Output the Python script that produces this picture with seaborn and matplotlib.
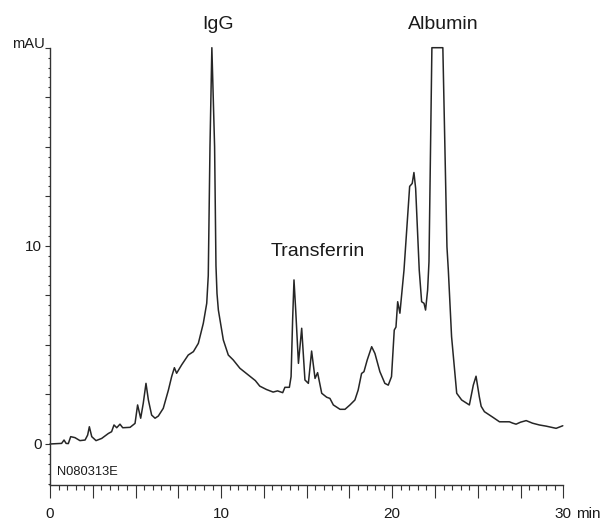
import numpy as np
import pandas as pd
import matplotlib
matplotlib.use("Agg")
import matplotlib.pyplot as plt
import matplotlib.ticker as mticker
import matplotlib.transforms as mtransforms
import seaborn as sns

# ---- data ----
time_min = [0.0, 0.68, 0.82, 0.94, 1.07, 1.21, 1.46, 1.75, 2.05, 2.2, 2.3, 2.44, 2.69,
            3.02, 3.41, 3.6, 3.74, 3.9, 4.09, 4.25, 4.68, 4.97, 5.12, 5.3, 5.45, 5.61, 5.75,
            5.94, 6.14, 6.33, 6.62, 6.92, 7.11, 7.27, 7.4, 7.7, 8.08, 8.38, 8.67, 8.96, 9.16,
            9.25, 9.35, 9.46, 9.62, 9.70, 9.76, 9.84, 10.13, 10.42, 10.71, 11.1, 11.65, 12.0,
            12.26, 12.65, 13.04, 13.3, 13.44, 13.6, 13.73, 13.99, 14.09, 14.18, 14.26, 14.36,
            14.52, 14.71, 14.9, 15.1, 15.29, 15.49, 15.64, 15.88, 16.17, 16.36, 16.56, 16.95,
            17.24, 17.53, 17.82, 18.01, 18.21, 18.35, 18.54, 18.8, 18.99, 19.28, 19.57, 19.77,
            19.96, 20.12, 20.22, 20.32, 20.45, 20.69, 21.02, 21.17, 21.27, 21.37, 21.58, 21.72,
            21.86, 21.95, 22.07, 22.15, 22.22, 22.32, 22.96, 23.2, 23.28, 23.47, 23.77, 24.06,
            24.51, 24.74, 24.9, 25.09, 25.2, 25.39, 25.88, 26.27, 26.46, 26.85, 27.05, 27.24,
            27.5, 27.83, 28.2, 28.6, 29.0, 29.58, 29.97]
absorbance_mau = [0.0, 0.03, 0.2, 0.03, 0.02, 0.37, 0.32, 0.17, 0.2, 0.45, 0.87, 0.37, 0.17,
                  0.28, 0.53, 0.62, 0.96, 0.82, 1.0, 0.82, 0.84, 1.04, 1.97, 1.3, 2.05, 3.06, 2.22,
                  1.46, 1.3, 1.41, 1.8, 2.72, 3.4, 3.85, 3.57, 4.0, 4.49, 4.66, 5.08, 6.09, 7.1,
                  8.5, 15.0, 20.0, 15.0, 9.0, 7.6, 6.76, 5.25, 4.49, 4.24, 3.82, 3.44, 3.2,
                  2.92, 2.75, 2.62, 2.68, 2.64, 2.59, 2.86, 2.86, 3.4, 6.26, 8.28, 6.76,
                  4.07, 5.84, 3.23, 3.06, 4.69, 3.31, 3.6, 2.56, 2.36, 2.3, 1.97, 1.75,
                  1.75, 1.97, 2.22, 2.72, 3.56, 3.65, 4.24, 4.91, 4.57, 3.65, 3.06, 2.97,
                  3.4, 5.75, 5.9, 7.18, 6.6, 8.78, 13.0, 13.15, 13.7, 12.9, 8.78, 7.18,
                  7.1, 6.76, 7.77, 9.2, 13.6, 20.0, 20.0, 9.95, 8.78, 5.42, 2.56, 2.22,
                  1.97, 2.97, 3.42, 2.39, 1.9, 1.63, 1.35, 1.12, 1.12, 1.12, 1.05, 1.0,
                  1.1, 1.18, 1.05, 0.96, 0.9, 0.79, 0.92]

peak_names = ["IgG", "Transferrin", "Albumin"]
peak_label_time = [9.82, 15.62, 22.96]
peak_label_level = [20.93, 9.49, 20.93]

x_label_values = [0, 10, 20, 30]
y_label_values = [0, 10]
sample_id = "N080313E"
y_unit = "mAU"
x_unit = "min"

# ---- figure ----
sns.set_theme(style="ticks")
plt.rcParams["font.family"] = ["Liberation Sans", "DejaVu Sans"]

fig = plt.figure(figsize=(6.04, 5.21), dpi=100)
fig.patch.set_facecolor("white")
ax = fig.add_axes([50 / 604, 1 - 485 / 521, 513.3 / 604, (485 - 47.7) / 521])
ax.set_facecolor("white")

df = pd.DataFrame({"time": time_min, "abs": absorbance_mau})
sns.lineplot(data=df, x="time", y="abs", ax=ax, color="#262626", linewidth=1.1,
             estimator=None, sort=False)
for ln in ax.lines:
    ln.set_clip_on(False)
    ln.set_solid_joinstyle("round")

ax.set_xlim(0, 30)
ax.set_ylim(-2.07, 20)
ax.set_xlabel("")
ax.set_ylabel("")

for s in ["top", "right"]:
    ax.spines[s].set_visible(False)
for s in ["left", "bottom"]:
    ax.spines[s].set_color("#333333")
    ax.spines[s].set_linewidth(1.0)

ax.xaxis.set_major_locator(mticker.MultipleLocator(2.5))
ax.xaxis.set_minor_locator(mticker.MultipleLocator(0.5))
ax.yaxis.set_major_locator(mticker.MultipleLocator(2.5))
ax.yaxis.set_minor_locator(mticker.MultipleLocator(0.5))

ax.xaxis.set_major_formatter(mticker.FuncFormatter(
    lambda v, p: f"{int(round(v))}" if any(abs(v - l) < 1e-6 for l in x_label_values) else ""))
ax.yaxis.set_major_formatter(mticker.FuncFormatter(
    lambda v, p: f"{int(round(v))}" if any(abs(v - l) < 1e-6 for l in y_label_values) else ""))

ax.tick_params(axis="x", which="major", length=9, width=0.8, color="#333333",
               labelsize=11, pad=6.5, labelcolor="#1a1a1a", direction="out")
ax.tick_params(axis="x", which="minor", length=3.6, width=0.8, color="#333333", direction="out")
ax.tick_params(axis="y", which="major", length=3.6, width=0.8, color="#333333",
               labelsize=11, pad=2, labelcolor="#1a1a1a", direction="out")
ax.tick_params(axis="y", which="minor", length=1.8, width=0.8, color="#333333", direction="out")

# unit label after the last x tick label
trans_min = mtransforms.offset_copy(ax.get_xaxis_transform(), fig=fig, y=-(9 + 6.5), units="points")
ax.text(30.73, 0, x_unit, transform=trans_min, ha="left", va="top", fontsize=11, color="#1a1a1a")

# y unit label at top left
ax.text(-0.011, 20.0, y_unit, transform=ax.get_yaxis_transform(), ha="right", va="baseline",
        fontsize=10.6, color="#1a1a1a", clip_on=False)

# sample id
ax.text(0.43, -1.56, sample_id, ha="left", va="baseline", fontsize=9.3, color="#1a1a1a")

# peak annotations
for name, t, lv in zip(peak_names, peak_label_time, peak_label_level):
    ax.text(t, lv, name, ha="center", va="baseline", fontsize=14, color="#1a1a1a", clip_on=False)

fig.savefig("out.png", dpi=100, facecolor="white")
